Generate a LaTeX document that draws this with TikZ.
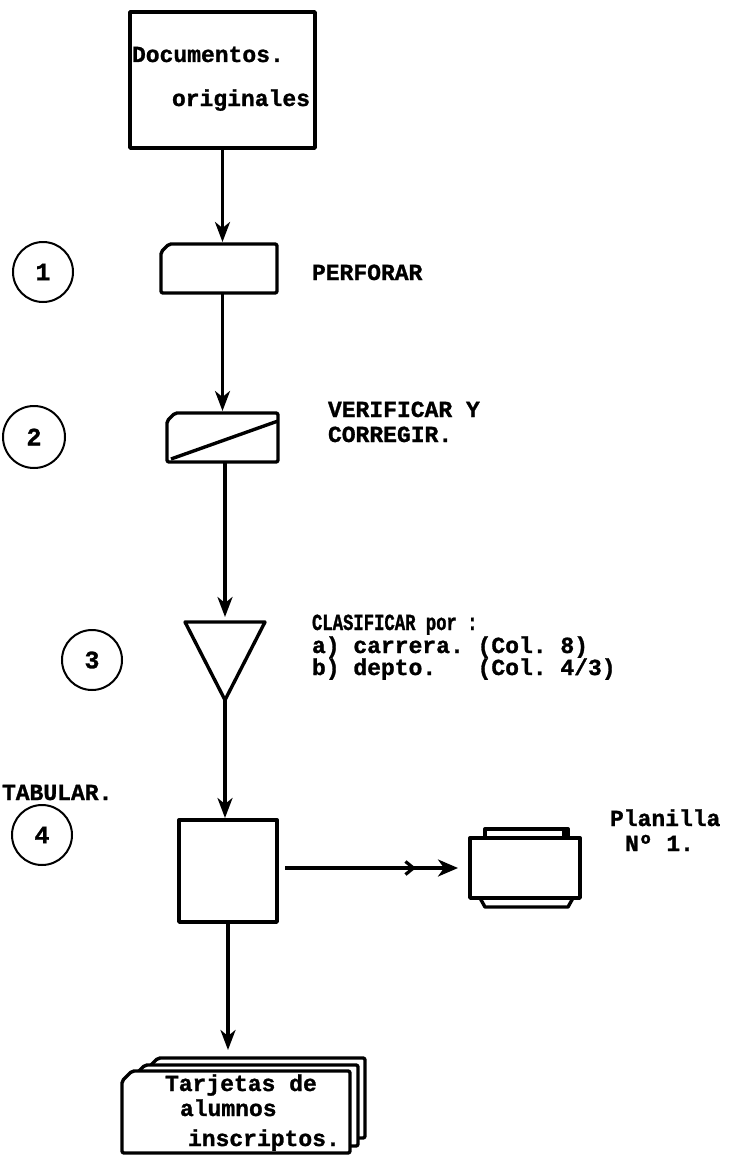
\documentclass[tikz,border=0pt]{standalone}
\usepackage{fontspec}
\setmainfont{Liberation Mono}[BoldFeatures={FakeBold=1.2}]
\newfontfamily\narrowfont{Liberation Mono}[FakeStretch=0.75,BoldFeatures={FakeBold=1.2}]
\usetikzlibrary{arrows.meta}
\frenchspacing
\begin{document}
\begin{tikzpicture}[x=1pt,y=-1pt,
  every node/.style={inner sep=0pt, outer sep=0pt},
  txt/.style={font=\fontsize{23}{25}\selectfont\bfseries, anchor=base west},
  ntxt/.style={font=\narrowfont\fontsize{23}{25}\selectfont\bfseries, anchor=base west},
  box/.style={draw, line width=3.4pt, line join=round},
  ghost/.style={rectangle, minimum width=#1},
  circ/.style={draw, circle, minimum size=60pt, line width=2pt, font=\fontsize{25}{25}\selectfont\bfseries},
  arr/.style={line width=3.2pt, -{Stealth[length=20pt,width=15pt,inset=6pt]}},
  card/.style={box, fill=white, rounded corners=2pt}
]
\fill[white] (0,0) rectangle (729,1164);
\useasboundingbox (0,0) rectangle (729,1164);

% documentos originales
\node[box, minimum width=185pt, minimum height=136pt] (docs) at (222.5,80) {};
\node[txt] (docs1) at (132,62) {Documentos.};
\node[txt] (docs2) at (172,106) {originales};

% 1 perforar
\node[ghost=116pt, minimum height=49pt] (perf) at (219,268.5) {};
\draw[card] ([xshift=8pt]perf.north west) -- (perf.north east) -- (perf.south east) -- (perf.south west) -- ([yshift=-8pt]perf.north west) -- cycle;
\node[txt] (perflbl) at (312,280) {PERFORAR};
\node[circ] (c1) at (43,272) {1};

% 2 verificar
\node[ghost=111pt, minimum height=49pt] (verif) at (222.5,437.5) {};
\draw[card] ([xshift=8pt]verif.north west) -- (verif.north east) -- (verif.south east) -- (verif.south west) -- ([yshift=-8pt]verif.north west) -- cycle;
\draw[box] ([xshift=4pt,yshift=3pt]verif.south west) -- ([yshift=-8pt]verif.north east);
\node[txt] (veriflbl1) at (328,417) {VERIFICAR Y};
\node[txt] (veriflbl2) at (328,442) {CORREGIR.};
\node[circ, minimum size=62pt] (c2) at (34,437) {2};

% 3 clasificar
\node[ghost=80pt, minimum height=78pt] (tri) at (225,661) {};
\draw[box] (tri.north west) -- (tri.north east) -- (tri.south) -- cycle;
\node[ntxt] (clas1) at (312,630) {CLASIFICAR por :};
\node[txt] (clas2) at (312,653) {a) carrera. (Col. 8)};
\node[txt] (clas3) at (312,675) {b) depto.\ \ \ (Col. 4/3)};
\node[circ] (c3) at (92,660) {3};

% 4 tabular
\node[box, minimum width=98pt, minimum height=102pt] (tab) at (228,871) {};
\node[txt] (tablbl) at (2,800) {TABULAR.};
\node[circ] (c4) at (42,835) {4};

% planilla
\node[ghost=110pt, minimum height=60pt] (plan) at (525,868) {};
\draw[box, fill=white] (plan.south west) rectangle (plan.north east);
\draw[box] ([xshift=15pt]plan.north west) -- ([xshift=15pt,yshift=9pt]plan.north west) -- ([xshift=-12pt,yshift=9pt]plan.north east) -- ([xshift=-12pt]plan.north east);
\fill ([xshift=-18pt]plan.north east) rectangle ([xshift=-12pt,yshift=9pt]plan.north east);
\draw[box] ([xshift=10pt]plan.south west) -- ([xshift=15pt,yshift=-9pt]plan.south west) -- ([xshift=-12pt,yshift=-9pt]plan.south east) -- ([xshift=-7pt]plan.south east);
\node[txt] (planlbl1) at (610,826) {Planilla};
\node[txt] (planlbl2) at (625,851) {Nº 1.};

% tarjetas
\node[ghost=217pt, minimum height=80pt] (stk3) at (256.5,1098) {};
\node[ghost=223pt, minimum height=81pt] (stk2) at (246.5,1105.5) {};
\node[ghost=228pt, minimum height=82pt] (stk) at (236,1112) {};
\foreach \s in {stk3,stk2,stk}{
  \draw[card] ([xshift=10pt]\s.north west) -- (\s.north east) -- (\s.south east) -- (\s.south west) -- ([yshift=-10pt]\s.north west) -- cycle;
}
\node[txt] (stk1lbl) at (165,1091) {Tarjetas de};
\node[txt] (stk2lbl) at (180,1116) {alumnos};
\node[txt] (stk3lbl) at (188,1146) {inscriptos.};

% connectors
\draw[arr] (docs.south) -- ([yshift=2pt]docs.south |- perf.north);
\draw[arr] (verif.north |- perf.south) -- ([yshift=2pt]verif.north);
\draw[arr] (tri.north |- verif.south) -- ([yshift=5pt]tri.north);
\draw[arr] (tri.south) -- ([yshift=2pt]tri.south |- tab.north);
\draw[arr] (tab.south) -- ([yshift=8pt]tab.south |- stk3.north);
\draw[line width=3.2pt, -{Straight Barb[length=8pt,width=13pt,sep=22pt]Stealth[length=20pt,width=17pt,inset=6pt]}] ([xshift=8pt]tab.east |- plan.west) -- ([xshift=-12pt]plan.west);
\end{tikzpicture}
\end{document}
